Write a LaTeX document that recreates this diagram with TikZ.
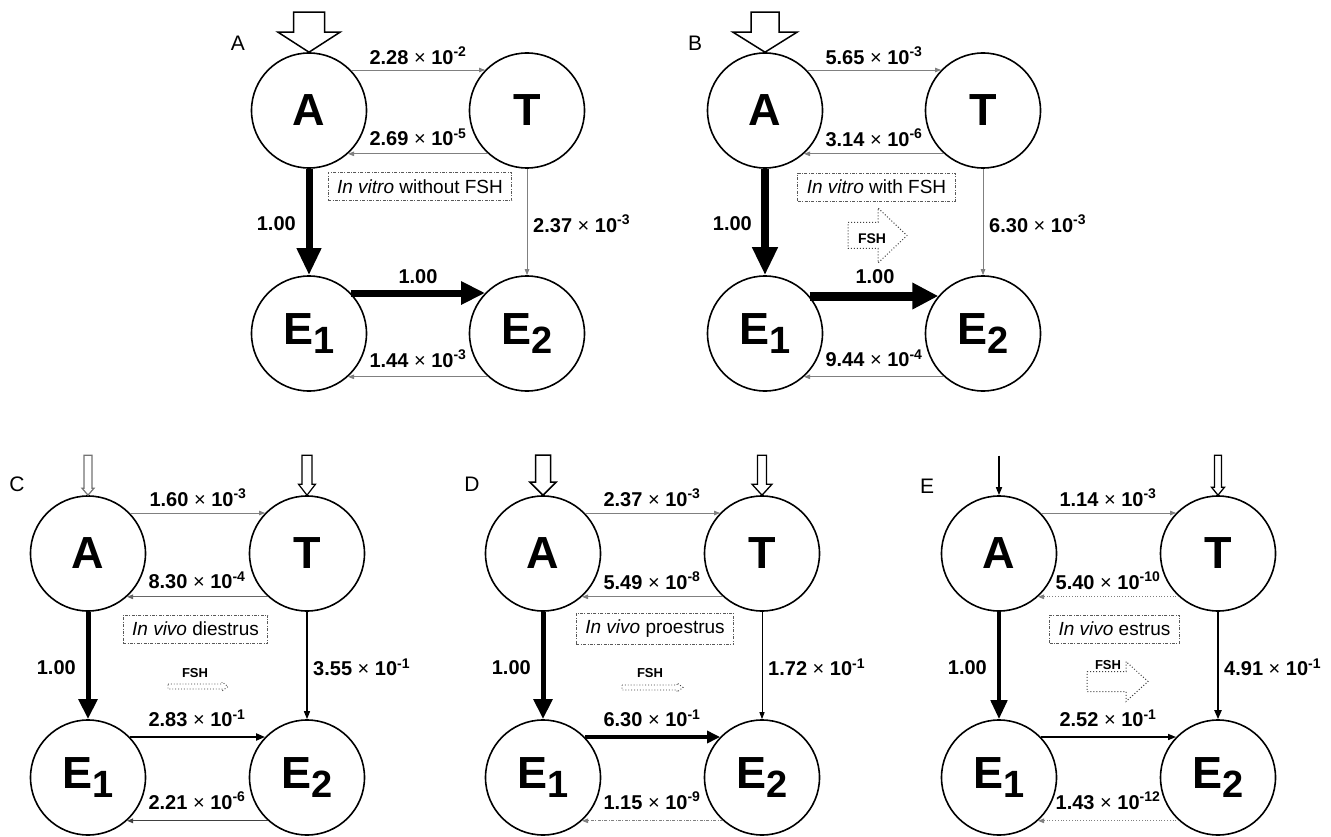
\documentclass[tikz,border=0pt]{standalone}
\usepackage{fontspec}
\setmainfont{Liberation Sans}
\usetikzlibrary{arrows.meta,calc}

% E with a lowered index digit
\newcommand\Esub[1]{E\raisebox{-9pt}{\fontsize{38}{38}\selectfont #1}}
% rate constant: mantissa x 10^exponent
\newcommand\rt[2]{#1 {\mdseries ×} 10\textsuperscript{#2}}

\begin{document}
\begin{tikzpicture}[x=1pt,y=-1pt,
  state/.style={circle, draw, line width=1.6pt, minimum size=115pt, inner sep=0pt,
                font=\fontsize{45}{45}\selectfont\bfseries},
  rate/.style={font=\fontsize{20}{20}\selectfont\bfseries, inner sep=1pt},
  tag/.style={font=\fontsize{21}{21}\selectfont},
  cond/.style={draw=black!65, line width=0.8pt,
               dash pattern=on 3pt off 1.5pt on 0.8pt off 1.5pt,
               inner xsep=9pt, inner ysep=7pt, font=\fontsize{19}{19}\selectfont},
  fshtxt/.style={font=\fontsize{13}{13}\selectfont\bfseries},
  thinarr/.style={draw=gray, line width=0.8pt, -{Triangle[length=6pt,width=4.5pt]}},
  flow/.style n args={3}{line width=#1, -{Triangle[length=#2,width=#3]}},
  inlet/.style={draw, line width=1.5pt, fill=white},
  fshbox/.style={draw=black!75, dotted, line width=1pt, fill=white},
  pics/inarrow/.style n args={4}{code={%
    \path[pic actions] (0,0) -- (-#2,-#4) -- (-#1,-#4) -- (-#1,-#3)
      -- (#1,-#3) -- (#1,-#4) -- (#2,-#4) -- cycle;}},
  pics/rarrow/.style n args={4}{code={%
    \path[pic actions] (0,-#1) -- (#3-#4,-#1) -- (#3-#4,-#2) -- (#3,0)
      -- (#3-#4,#2) -- (#3-#4,#1) -- (0,#1) -- cycle;}},
]
\useasboundingbox (0,0) rectangle (1331,837);

% ---------- Panel A: in vitro without FSH ----------
\begin{scope}[shift={(309,110.5)}]
  \node[state] (aA) at (0,0) {A};
  \node[state] (aT) at (218,0) {T};
  \node[state] (aE1) at (0,223) {\Esub{1}};
  \node[state] (aE2) at (218,223) {\Esub{2}};
  \node[tag] (aLab) at (-71,-67) {A};
  \pic[inlet] at (aA.north) {inarrow={15.5}{31}{40}{20}};
  \draw[thinarr] (aA.44) -- (aT.136);
  \draw[thinarr] (aT.-132) -- (aA.-48);
  \draw[flow={7pt}{27pt}{23pt}] (aA.south) -- (aE1.north);
  \draw[thinarr] (aT.south) -- (aE2.north);
  \draw[flow={7pt}{24pt}{22pt}] (aE1.44) -- (aE2.136);
  \draw[thinarr] (aE2.-132) -- (aE1.-48);
  \node[cond] (aBox) at (111,76) {\textit{In vitro} without FSH};
  \node[rate] (aR1) at (109,-55) {\rt{2.28}{-2}};
  \node[rate] (aR2) at (109,27) {\rt{2.69}{-5}};
  \node[rate, anchor=east] (aR3) at (-12,113) {1.00};
  \node[rate, anchor=west] (aR4) at (223,113) {\rt{2.37}{-3}};
  \node[rate] (aR5) at (109,166) {1.00};
  \node[rate] (aR6) at (109,248) {\rt{1.44}{-3}};
\end{scope}

% ---------- Panel B: in vitro with FSH ----------
\begin{scope}[shift={(765,110.5)}]
  \node[state] (bA) at (0,0) {A};
  \node[state] (bT) at (218,0) {T};
  \node[state] (bE1) at (0,223) {\Esub{1}};
  \node[state] (bE2) at (218,223) {\Esub{2}};
  \node[tag] (bLab) at (-70,-67) {B};
  \pic[inlet] at (bA.north) {inarrow={14}{32}{40}{20}};
  \draw[thinarr] (bA.44) -- (bT.136);
  \draw[thinarr] (bT.-132) -- (bA.-48);
  \draw[flow={8pt}{28pt}{24pt}] (bA.south) -- (bE1.north);
  \draw[thinarr] (bT.south) -- (bE2.north);
  \draw[flow={9pt}{26pt}{25pt}] (bE1.40) -- (bE2.140);
  \draw[thinarr] (bE2.-132) -- (bE1.-48);
  \node[cond] (bBox) at (111.5,76.5) {\textit{In vitro} with FSH};
  \pic[fshbox] at (83,125) {rarrow={13}{27.5}{59}{29}};
  \node[fshtxt, font=\fontsize{14}{14}\selectfont\bfseries] (bFsh) at (107,128) {FSH};
  \node[rate] (bR1) at (109,-55) {\rt{5.65}{-3}};
  \node[rate] (bR2) at (109,27) {\rt{3.14}{-6}};
  \node[rate, anchor=east] (bR3) at (-12,113) {1.00};
  \node[rate, anchor=west] (bR4) at (223,113) {\rt{6.30}{-3}};
  \node[rate] (bR5) at (110,166) {1.00};
  \node[rate] (bR6) at (109,248) {\rt{9.44}{-4}};
\end{scope}

% ---------- Panel C: in vivo diestrus ----------
\begin{scope}[shift={(88,553.5)}]
  \node[state] (cA) at (0,0) {A};
  \node[state] (cT) at (219,0) {T};
  \node[state] (cE1) at (0,224) {\Esub{1}};
  \node[state] (cE2) at (219,224) {\Esub{2}};
  \node[tag] (cLab) at (-71,-69) {C};
  \pic[inlet, draw=black!55, line width=1.2pt] at (cA.north) {inarrow={4}{6}{40}{7}};
  \pic[inlet, line width=1.2pt] at (cT.north) {inarrow={5}{8.5}{40}{11}};
  \draw[thinarr] (cA.44) -- (cT.136);
  \draw[thinarr, draw=black!60, line width=1pt] (cT.-132) -- (cA.-48);
  \draw[flow={5pt}{20pt}{18pt}] (cA.south) -- (cE1.north);
  \draw[flow={1.4pt}{8pt}{6pt}] (cT.south) -- (cE2.north);
  \draw[flow={2pt}{9pt}{7pt}] (cE1.44) -- (cE2.136);
  \draw[thinarr, draw=black!75, line width=1.2pt] (cE2.-132) -- (cE1.-48);
  \node[cond] (cBox) at (107.5,75.5) {\textit{In vivo} diestrus};
  \pic[fshbox, line width=0.9pt] at (80,133) {rarrow={2.5}{4.5}{60}{6}};
  \node[fshtxt] (cFsh) at (107,120) {FSH};
  \node[rate] (cR1) at (110,-56) {\rt{1.60}{-3}};
  \node[rate] (cR2) at (109,27) {\rt{8.30}{-4}};
  \node[rate, anchor=east] (cR3) at (-11,114) {1.00};
  \node[rate, anchor=west] (cR4) at (224,114) {\rt{3.55}{-1}};
  \node[rate] (cR5) at (109,165) {\rt{2.83}{-1}};
  \node[rate] (cR6) at (109,247) {\rt{2.21}{-6}};
\end{scope}

% ---------- Panel D: in vivo proestrus ----------
\begin{scope}[shift={(543,553.5)}]
  \node[state] (dA) at (0,0) {A};
  \node[state] (dT) at (219,0) {T};
  \node[state] (dE1) at (0,224) {\Esub{1}};
  \node[state] (dE2) at (219,224) {\Esub{2}};
  \node[tag] (dLab) at (-71,-69) {D};
  \pic[inlet] at (dA.north) {inarrow={7.5}{13}{40}{13}};
  \pic[inlet, line width=1.3pt] at (dT.north) {inarrow={4.5}{10}{40}{11}};
  \draw[thinarr] (dA.44) -- (dT.136);
  \draw[thinarr] (dT.-132) -- (dA.-48);
  \draw[flow={5pt}{20pt}{18pt}] (dA.south) -- (dE1.north);
  \draw[flow={1pt}{7pt}{5pt}] (dT.south) -- (dE2.north);
  \draw[flow={3.5pt}{13pt}{12pt}] (dE1.44) -- (dE2.136);
  \draw[thinarr, dash pattern=on 3pt off 1.5pt on 0.8pt off 1.5pt] (dE2.-132) -- (dE1.-48);
  \node[cond] (dBox) at (112,75.5) {\textit{In vivo} proestrus};
  \pic[fshbox, line width=0.9pt] at (79,134) {rarrow={2.5}{4.5}{61}{6}};
  \node[fshtxt] (dFsh) at (107,120) {FSH};
  \node[rate] (dR1) at (109,-56) {\rt{2.37}{-3}};
  \node[rate] (dR2) at (109,27) {\rt{5.49}{-8}};
  \node[rate, anchor=east] (dR3) at (-11,114) {1.00};
  \node[rate, anchor=west] (dR4) at (224,114) {\rt{1.72}{-1}};
  \node[rate] (dR5) at (109,165) {\rt{6.30}{-1}};
  \node[rate] (dR6) at (109,247) {\rt{1.15}{-9}};
\end{scope}

% ---------- Panel E: in vivo estrus ----------
\begin{scope}[shift={(999,553.5)}]
  \node[state] (eA) at (0,0) {A};
  \node[state] (eT) at (219,0) {T};
  \node[state] (eE1) at (0,224) {\Esub{1}};
  \node[state] (eE2) at (219,224) {\Esub{2}};
  \node[tag] (eLab) at (-72,-67) {E};
  \coordinate (eIn) at (0,-98);
  \draw[flow={1.5pt}{8pt}{6pt}] (eIn) -- (eA.north);
  \pic[inlet, line width=1.3pt] at (eT.north) {inarrow={3.5}{6.5}{40}{8}};
  \draw[thinarr] (eA.44) -- (eT.136);
  \draw[thinarr, dotted, line width=1pt] (eT.-132) -- (eA.-48);
  \draw[flow={4.5pt}{19pt}{16pt}] (eA.south) -- (eE1.north);
  \draw[flow={2pt}{9pt}{7pt}] (eT.south) -- (eE2.north);
  \draw[flow={1.5pt}{8pt}{6pt}] (eE1.44) -- (eE2.136);
  \draw[thinarr, dotted, line width=1pt] (eE2.-132) -- (eE1.-48);
  \node[cond] (eBox) at (115.5,75.5) {\textit{In vivo} estrus};
  \pic[fshbox] at (88,128) {rarrow={10}{20}{61}{22}};
  \node[fshtxt, fill=white, inner sep=0.5pt] (eFsh) at (109,112) {FSH};
  \node[rate] (eR1) at (109,-56) {\rt{1.14}{-3}};
  \node[rate] (eR2) at (109,27) {\rt{5.40}{-10}};
  \node[rate, anchor=east] (eR3) at (-11,114) {1.00};
  \node[rate, anchor=west] (eR4) at (224,114) {\rt{4.91}{-1}};
  \node[rate] (eR5) at (109,165) {\rt{2.52}{-1}};
  \node[rate] (eR6) at (109,247) {\rt{1.43}{-12}};
\end{scope}
\end{tikzpicture}
\end{document}
